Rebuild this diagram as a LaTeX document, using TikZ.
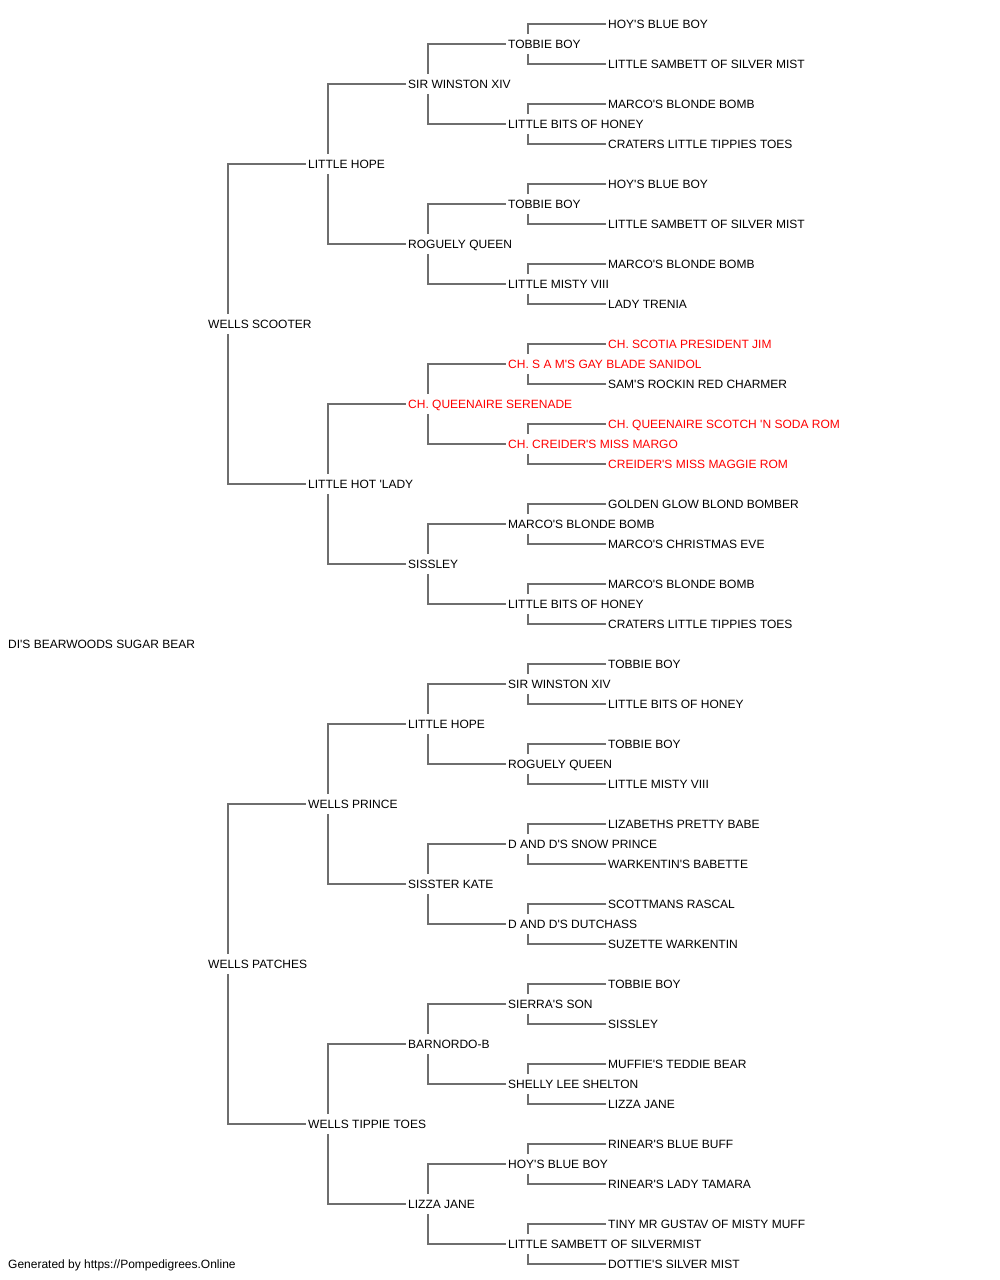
\documentclass[tikz,border=0pt]{standalone}
\usepackage{fontspec}
\newfontfamily\pedfont{Liberation Sans}[Ligatures=TeXOff]
\definecolor{champred}{HTML}{FF0000}
\def\sireline(#1)(#2){\draw[link] (#1.north west) ++(22,0) |- (#2.west);}
\def\damline(#1)(#2){\draw[link] (#1.south west) ++(22,0) |- (#2.west);}

\tikzset{
	dog/.style={anchor=west, inner xsep=2pt, inner ysep=1.5pt, text height=13pt, text depth=4pt, font=\pedfont\fontsize{12}{14}\selectfont},
	champ/.style={dog, text=champred},
	link/.style={line width=1.4pt, color=black!57},
}

\begin{document}
\begin{tikzpicture}[x=1pt, y=-1pt]
			%%%%% START %%%%%
			\useasboundingbox (0, 0) rectangle (1000, 1280);
			
			\node[dog] (root) at (6, 644) {DI'S BEARWOODS SUGAR BEAR};
			
			\node[dog] (s) at (206, 324) {WELLS SCOOTER};
			\node[dog] (d) at (206, 964) {WELLS PATCHES};
			
			\node[dog] (ss) at (306, 164) {LITTLE HOPE};
			\node[dog] (sd) at (306, 484) {LITTLE HOT 'LADY};
			\node[dog] (ds) at (306, 804) {WELLS PRINCE};
			\node[dog] (dd) at (306, 1124) {WELLS TIPPIE TOES};
			
			\node[dog] (sss) at (406, 84) {SIR WINSTON XIV};
			\node[dog] (ssd) at (406, 244) {ROGUELY QUEEN};
			\node[champ] (sds) at (406, 404) {CH. QUEENAIRE SERENADE};
			\node[dog] (sdd) at (406, 564) {SISSLEY};
			\node[dog] (dss) at (406, 724) {LITTLE HOPE};
			\node[dog] (dsd) at (406, 884) {SISSTER KATE};
			\node[dog] (dds) at (406, 1044) {BARNORDO-B};
			\node[dog] (ddd) at (406, 1204) {LIZZA JANE};
			
			\node[dog] (ssss) at (506, 44) {TOBBIE BOY};
			\node[dog] (sssd) at (506, 124) {LITTLE BITS OF HONEY};
			\node[dog] (ssds) at (506, 204) {TOBBIE BOY};
			\node[dog] (ssdd) at (506, 284) {LITTLE MISTY VIII};
			\node[champ] (sdss) at (506, 364) {CH. S A M'S GAY BLADE SANIDOL};
			\node[champ] (sdsd) at (506, 444) {CH. CREIDER'S MISS MARGO};
			\node[dog] (sdds) at (506, 524) {MARCO'S BLONDE BOMB};
			\node[dog] (sddd) at (506, 604) {LITTLE BITS OF HONEY};
			\node[dog] (dsss) at (506, 684) {SIR WINSTON XIV};
			\node[dog] (dssd) at (506, 764) {ROGUELY QUEEN};
			\node[dog] (dsds) at (506, 844) {D AND D'S SNOW PRINCE};
			\node[dog] (dsdd) at (506, 924) {D AND D'S DUTCHASS};
			\node[dog] (ddss) at (506, 1004) {SIERRA'S SON};
			\node[dog] (ddsd) at (506, 1084) {SHELLY LEE SHELTON};
			\node[dog] (ddds) at (506, 1164) {HOY'S BLUE BOY};
			\node[dog] (dddd) at (506, 1244) {LITTLE SAMBETT OF SILVERMIST};
			
			\node[dog] (sssss) at (606, 24) {HOY'S BLUE BOY};
			\node[dog] (ssssd) at (606, 64) {LITTLE SAMBETT OF SILVER MIST};
			\node[dog] (sssds) at (606, 104) {MARCO'S BLONDE BOMB};
			\node[dog] (sssdd) at (606, 144) {CRATERS LITTLE TIPPIES TOES};
			\node[dog] (ssdss) at (606, 184) {HOY'S BLUE BOY};
			\node[dog] (ssdsd) at (606, 224) {LITTLE SAMBETT OF SILVER MIST};
			\node[dog] (ssdds) at (606, 264) {MARCO'S BLONDE BOMB};
			\node[dog] (ssddd) at (606, 304) {LADY TRENIA};
			\node[champ] (sdsss) at (606, 344) {CH. SCOTIA PRESIDENT JIM};
			\node[dog] (sdssd) at (606, 384) {SAM'S ROCKIN RED CHARMER};
			\node[champ] (sdsds) at (606, 424) {CH. QUEENAIRE SCOTCH 'N SODA ROM};
			\node[champ] (sdsdd) at (606, 464) {CREIDER'S MISS MAGGIE ROM};
			\node[dog] (sddss) at (606, 504) {GOLDEN GLOW BLOND BOMBER};
			\node[dog] (sddsd) at (606, 544) {MARCO'S CHRISTMAS EVE};
			\node[dog] (sddds) at (606, 584) {MARCO'S BLONDE BOMB};
			\node[dog] (sdddd) at (606, 624) {CRATERS LITTLE TIPPIES TOES};
			\node[dog] (dssss) at (606, 664) {TOBBIE BOY};
			\node[dog] (dsssd) at (606, 704) {LITTLE BITS OF HONEY};
			\node[dog] (dssds) at (606, 744) {TOBBIE BOY};
			\node[dog] (dssdd) at (606, 784) {LITTLE MISTY VIII};
			\node[dog] (dsdss) at (606, 824) {LIZABETHS PRETTY BABE};
			\node[dog] (dsdsd) at (606, 864) {WARKENTIN'S BABETTE};
			\node[dog] (dsdds) at (606, 904) {SCOTTMANS RASCAL};
			\node[dog] (dsddd) at (606, 944) {SUZETTE WARKENTIN};
			\node[dog] (ddsss) at (606, 984) {TOBBIE BOY};
			\node[dog] (ddssd) at (606, 1024) {SISSLEY};
			\node[dog] (ddsds) at (606, 1064) {MUFFIE'S TEDDIE BEAR};
			\node[dog] (ddsdd) at (606, 1104) {LIZZA JANE};
			\node[dog] (dddss) at (606, 1144) {RINEAR'S BLUE BUFF};
			\node[dog] (dddsd) at (606, 1184) {RINEAR'S LADY TAMARA};
			\node[dog] (dddds) at (606, 1224) {TINY MR GUSTAV OF MISTY MUFF};
			\node[dog] (ddddd) at (606, 1264) {DOTTIE'S SILVER MIST};
			
			\node[dog] (credit) at (6, 1264) {Generated by https://Pompedigrees.Online};
			
			\sireline(s)(ss) \damline(s)(sd)
			\sireline(d)(ds) \damline(d)(dd)
			
			\sireline(ss)(sss) \damline(ss)(ssd)
			\sireline(sd)(sds) \damline(sd)(sdd)
			\sireline(ds)(dss) \damline(ds)(dsd)
			\sireline(dd)(dds) \damline(dd)(ddd)
			
			\sireline(sss)(ssss) \damline(sss)(sssd)
			\sireline(ssd)(ssds) \damline(ssd)(ssdd)
			\sireline(sds)(sdss) \damline(sds)(sdsd)
			\sireline(sdd)(sdds) \damline(sdd)(sddd)
			\sireline(dss)(dsss) \damline(dss)(dssd)
			\sireline(dsd)(dsds) \damline(dsd)(dsdd)
			\sireline(dds)(ddss) \damline(dds)(ddsd)
			\sireline(ddd)(ddds) \damline(ddd)(dddd)
			
			\sireline(ssss)(sssss) \damline(ssss)(ssssd)
			\sireline(sssd)(sssds) \damline(sssd)(sssdd)
			\sireline(ssds)(ssdss) \damline(ssds)(ssdsd)
			\sireline(ssdd)(ssdds) \damline(ssdd)(ssddd)
			\sireline(sdss)(sdsss) \damline(sdss)(sdssd)
			\sireline(sdsd)(sdsds) \damline(sdsd)(sdsdd)
			\sireline(sdds)(sddss) \damline(sdds)(sddsd)
			\sireline(sddd)(sddds) \damline(sddd)(sdddd)
			\sireline(dsss)(dssss) \damline(dsss)(dsssd)
			\sireline(dssd)(dssds) \damline(dssd)(dssdd)
			\sireline(dsds)(dsdss) \damline(dsds)(dsdsd)
			\sireline(dsdd)(dsdds) \damline(dsdd)(dsddd)
			\sireline(ddss)(ddsss) \damline(ddss)(ddssd)
			\sireline(ddsd)(ddsds) \damline(ddsd)(ddsdd)
			\sireline(ddds)(dddss) \damline(ddds)(dddsd)
			\sireline(dddd)(dddds) \damline(dddd)(ddddd)
			
			%%%%% END %%%%%
\end{tikzpicture}
\end{document}
